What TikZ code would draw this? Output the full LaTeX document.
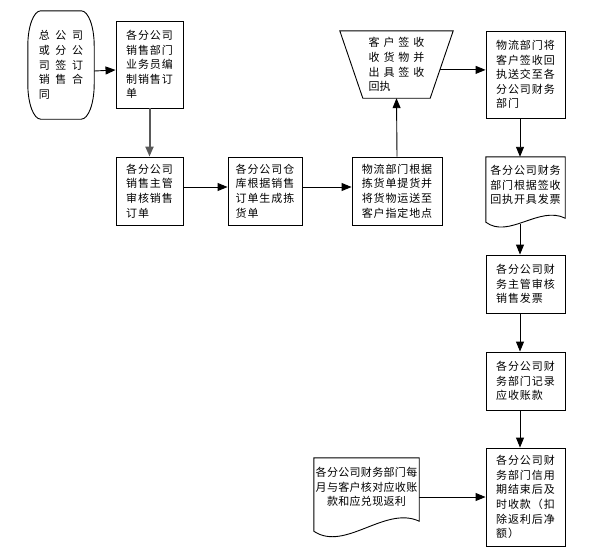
\documentclass[tikz,border=0pt]{standalone}
\usepackage{fontspec}
\usetikzlibrary{arrows.meta,calc}
\newfontfamily\cjk{Noto Sans CJK SC}[LetterSpace=8]
\newfontfamily\cjkdoc{Noto Sans CJK SC}[LetterSpace=3]
\newfontfamily\cjkwide{Noto Sans CJK SC}[LetterSpace=52]
\newfontfamily\cjkmid{Noto Sans CJK SC}[LetterSpace=36]
\newfontfamily\cjkplain{Noto Sans CJK SC}
\newcommand{\fsz}{\fontsize{11pt}{14.6pt}\selectfont}
\tikzset{
  box/.style={draw, line width=0.9pt, rectangle, inner sep=0pt, align=left, font=\cjk\fsz},
  ghost/.style={rectangle, inner sep=0pt, font=\cjk\fsz},
  outline/.style={draw, line width=0.9pt},
  arr/.style={-{Triangle[length=10pt,width=8pt]}, line width=0.9pt, black},
  grayarr/.style={-{Triangle[length=10pt,width=8pt]}, line width=2pt, draw=black!65, fill=black}
}
\begin{document}
\begin{tikzpicture}[x=1pt,y=-1pt]
\useasboundingbox (0,0) rectangle (596,557);

% start oval
\node[ghost, align=left, font=\cjkwide\fsz, minimum width=66pt, minimum height=108pt] (oval) at (61,65) {总公司\\或分公\\司签订\\销售合\\同};
\draw[outline] ([xshift=13pt]oval.north west) -- ([xshift=-13pt]oval.north east)
  arc[start angle=90,end angle=0,x radius=13pt,y radius=35pt]
  -- ([yshift=35pt]oval.south east)
  arc[start angle=0,end angle=-90,x radius=13pt,y radius=35pt]
  -- ([xshift=13pt]oval.south west)
  arc[start angle=-90,end angle=-180,x radius=13pt,y radius=35pt]
  -- ([yshift=-35pt]oval.north west)
  arc[start angle=180,end angle=90,x radius=13pt,y radius=35pt] -- cycle;

% boxes
\node[box, minimum width=67pt, minimum height=87pt] (box1) at (149.5,64.5) {各分公司\\销售部门\\业务员编\\制销售订\\单};
\node[box, minimum width=67pt, minimum height=68pt] (box2) at (149.5,191) {各分公司\\销售主管\\审核销售\\订单};
\node[box, minimum width=74pt, minimum height=68pt] (box3) at (265,191) {各分公司仓\\库根据销售\\订单生成拣\\货单};
\node[box, minimum width=90pt, minimum height=68pt] (box4) at (397,191) {物流部门根据\\拣货单提货并\\将货物运送至\\客户指定地点};

% trapezoid
\node[ghost, align=left, font=\cjkmid\fsz, minimum width=113pt, minimum height=67pt] (trap) at (396.5,64.5) {客户签收\\收货物并\\出具签收\\{\cjkplain 回执}};
\draw[outline] (trap.north west) -- (trap.north east) -- ([xshift=-23pt]trap.south east) -- ([xshift=23pt]trap.south west) -- cycle;
\coordinate (trapR) at ($(trap.north east)!0.58!([xshift=-23pt]trap.south east)$);

\node[box, minimum width=79pt, minimum height=87pt] (box5) at (525.5,74.5) {物流部门将\\客户签收回\\执送交至各\\分公司财务\\部门};

% document 1
\node[ghost, align=center, minimum width=79pt, minimum height=56pt] (doc1) at (525.5,185) {各分公司财务\\部门根据签收\\回执开具发票};
\draw[outline] (doc1.north west) -- (doc1.north east) -- ([yshift=-5pt]doc1.south east)
  .. controls ([xshift=-26pt,yshift=8pt]doc1.south east) and ([xshift=23pt,yshift=-26pt]doc1.south west) .. ([yshift=-9pt]doc1.south west) -- cycle;

\node[box, minimum width=79pt, minimum height=58pt] (box6) at (525.5,284) {各分公司财\\务主管审核\\销售发票};
\node[box, minimum width=79pt, minimum height=58pt] (box7) at (525.5,381) {各分公司财\\务部门记录\\应收账款};
\node[box, minimum width=79pt, minimum height=98pt] (box8) at (525.5,497) {各分公司财\\务部门信用\\期结束后及\\时收款（扣\\除返利后净\\额）};

% document 2
\node[ghost, align=center, font=\cjkdoc\fsz, minimum width=105pt, minimum height=58pt] (doc2) at (366.5,487) {各分公司财务部门每\\月与客户核对应收账\\款和应兑现返利};
\draw[outline] (doc2.north west) -- (doc2.north east) -- ([yshift=-5pt]doc2.south east)
  .. controls ([xshift=-34pt,yshift=11pt]doc2.south east) and ([xshift=31pt,yshift=-36pt]doc2.south west) .. ([yshift=-15pt]doc2.south west) -- cycle;

% connectors
\draw[arr] ([yshift=-6pt]oval.east) -- ([yshift=-5.5pt]box1.west);
\draw[grayarr] (box1.south) -- (box2.north);
\draw[arr] ([yshift=4pt]box2.east) -- ([yshift=4pt]box3.west);
\draw[arr] ([yshift=4pt]box3.east) -- ([yshift=4pt]box4.west);
\draw[arr] (box4.north) -- (trap.south);
\draw[arr] (trapR) -- (trapR -| box5.west);
\draw[arr] ([xshift=-5.5pt]box5.south) -- ([xshift=-5.5pt]doc1.north);
\draw[arr] ([xshift=-5.5pt,yshift=-11pt]doc1.south) -- ([xshift=-5.5pt]box6.north);
\draw[arr] ([xshift=-5.5pt]box6.south) -- ([xshift=-5.5pt]box7.north);
\draw[arr] ([xshift=-5.5pt]box7.south) -- ([xshift=-5.5pt]box8.north);
\draw[arr] ([yshift=-10pt]doc2.east) -- ([yshift=-10pt]doc2.east -| box8.west);
\end{tikzpicture}
\end{document}
